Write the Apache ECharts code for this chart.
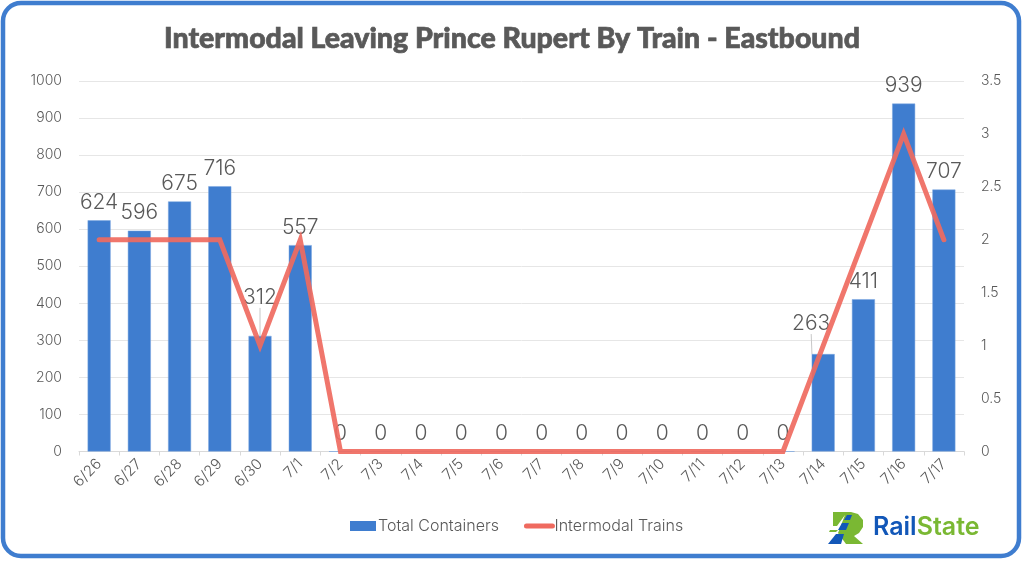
<!DOCTYPE html>
<html>
<head>
<meta charset="utf-8">
<style>html,body{margin:0;padding:0;background:#fff}#chart{width:1024px;height:562px}</style>
<script src="https://cdn.jsdelivr.net/npm/echarts@6/dist/echarts.min.js"></script>
</head>
<body>
<div id="chart"></div>
<script>
var days = ['6/26','6/27','6/28','6/29','6/30','7/1','7/2','7/3','7/4','7/5','7/6','7/7','7/8','7/9','7/10','7/11','7/12','7/13','7/14','7/15','7/16','7/17'];
var containers = [624,596,675,716,312,557,0,0,0,0,0,0,0,0,0,0,0,0,263,411,939,707];
var trains = [2,2,2,2,1,2,0,0,0,0,0,0,0,0,0,0,0,0,1,2,3,2];
var leftTicks = [0,100,200,300,400,500,600,700,800,900,1000];
var rightTicks = [0,0.5,1,1.5,2,2.5,3,3.5];

var textColor = '#595959';
var labelFont = 'Inter';
var chart = echarts.init(document.getElementById('chart'));

//标签偏移，312和263带引线
var labelMoves = {4: {dy: -21}, 18: {dx: -12, dy: -13}};

var option = {
	animation: false,
	backgroundColor: '#fff',
	title: {
		text: 'Intermodal Leaving Prince Rupert By Train - Eastbound',
		left: 'center',
		top: 19,
		textStyle: {color: textColor, fontFamily: 'Lato', fontWeight: 900, fontSize: 28.5, textBorderColor: textColor, textBorderWidth: 0.7}
	},
	legend: {
		top: 513,
		left: 345,
		itemWidth: 26,
		itemHeight: 10,
		itemGap: 25,
		textStyle: {color: textColor, fontFamily: labelFont, fontWeight: 300, fontSize: 16, padding: [0, 0, 0, -3]},
		data: [
			{name: 'Total Containers', icon: 'rect', itemStyle: {borderWidth: 0}},
			{name: 'Intermodal Trains', itemStyle: {opacity: 0}, lineStyle: {width: 5, opacity: 1}}
		]
	},
	grid: {left: 79, right: 60, top: 81, bottom: 110.5},
	xAxis: {
		type: 'category',
		data: days,
		axisLine: {lineStyle: {color: '#d9d9d9'}},
		axisTick: {show: true, length: 4, lineStyle: {color: '#d9d9d9'}},
		axisLabel: {color: textColor, fontFamily: labelFont, fontWeight: 300, fontSize: 15, rotate: 45, interval: 0, margin: 10}
	},
	yAxis: [{
		type: 'value',
		min: leftTicks[0],
		max: leftTicks[leftTicks.length - 1],
		interval: 100,
		axisLine: {show: false},
		axisTick: {show: false},
		splitLine: {lineStyle: {color: '#e6e6e6', width: 1}},
		axisLabel: {
			color: textColor, fontFamily: labelFont, fontWeight: 300, fontSize: 14, margin: 17,
			formatter: function (value) {
				return String(value);
			}
		}
	}, {
		type: 'value',
		min: rightTicks[0],
		max: rightTicks[rightTicks.length - 1],
		interval: 0.5,
		axisLine: {show: false},
		axisTick: {show: false},
		splitLine: {show: false},
		axisLabel: {color: textColor, fontFamily: labelFont, fontWeight: 300, fontSize: 14, margin: 17}
	}],
	series: [{
		name: 'Total Containers',
		type: 'bar',
		data: containers.map(function (v, i) {
			return {value: v, labelLine: {show: !!labelMoves[i]}};
		}),
		barWidth: 23,
		itemStyle: {color: '#3f7dcf', borderColor: '#7aa6e0', borderWidth: 0.5},
		label: {
			show: true,
			position: 'top',
			distance: 7,
			color: textColor,
			fontFamily: labelFont,
			fontWeight: 300,
			fontSize: 21
		},
		labelLine: {show: false, lineStyle: {color: '#c8c8c8', width: 1}},
		labelLayout: function (params) {
			return labelMoves[params.dataIndex] || {};
		}
	}, {
		name: 'Intermodal Trains',
		type: 'line',
		yAxisIndex: 1,
		data: trains,
		symbol: 'none',
		z: 5,
		lineStyle: {color: '#ef6a5f', width: 5, opacity: 0.92, cap: 'round', join: 'miter'},
		itemStyle: {color: '#ef6a5f'}
	}],
	graphic: [
		{type: 'rect', z: 100, shape: {x: 3, y: 3, width: 1016, height: 553, r: 18},
			style: {fill: 'none', stroke: '#3f7dcf', lineWidth: 4.5}},
		//logo
		{type: 'polygon', z: 100, shape: {points: [[833,512],[851,512],[858,514],[863,520],[863,527],[859,533],[854,536],[863,544],[846,544],[838,533],[845,515],[837,526],[833,526]]},
			style: {fill: '#7ab833'}},
		{type: 'polygon', z: 100, shape: {points: [[830,530],[838,530],[836,532],[829,532]]}, style: {fill: '#7ab833'}},
		{type: 'polygon', z: 101, shape: {points: [[836,534],[844,534],[841,544],[828,544]]}, style: {fill: '#1257b8'}},
		{type: 'polygon', z: 101, shape: {points: [[842,523],[849,523],[846,530],[838,530]]}, style: {fill: '#1257b8'}},
		{type: 'polygon', z: 101, shape: {points: [[847,515],[852,515],[850,520],[844,520]]}, style: {fill: '#1257b8'}},
		{type: 'text', z: 100, x: 873, y: 515, style: {
			text: '{a|Rail}{b|State}',
			rich: {
				a: {fill: '#1257b8', font: '600 25px Inter'},
				b: {fill: '#7ab833', font: '600 25px Inter'}
			}
		}}
	]
};

chart.setOption(option);
</script>
</body>
</html>
